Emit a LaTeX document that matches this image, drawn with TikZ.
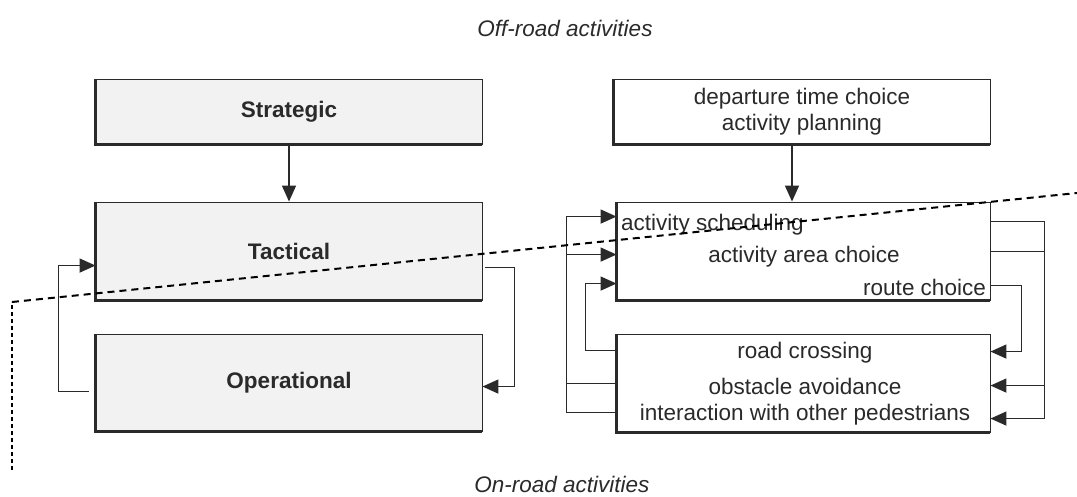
\documentclass[tikz,border=0pt]{standalone}
\usepackage{fontspec}
\setmainfont{Liberation Sans}
\usepackage{tikz}
\usetikzlibrary{arrows.meta}
\definecolor{boxgray}{HTML}{F2F2F2}
\definecolor{inkgray}{HTML}{2A2A2A}

\begin{document}
\begin{tikzpicture}[x=1pt,y=-1pt]
\tikzstyle{every node}=[font=\fontsize{22.5}{26}\selectfont, text=inkgray]
\tikzstyle{levelbox}=[draw=inkgray, line width=0.9pt, fill=boxgray, font=\fontsize{22.5}{26}\selectfont\bfseries, inner sep=0pt]
\tikzstyle{taskbox}=[draw=inkgray, line width=0.9pt, fill=white, inner sep=0pt, align=center]
\tikzstyle{txt}=[inner sep=0pt]
\tikzstyle{conn}=[draw=inkgray, line width=1pt]
\tikzstyle{arr}=[draw=inkgray, line width=1.5pt, -{Triangle[length=16pt,width=14pt]}]
\useasboundingbox (0,0) rectangle (1077,496);
\node[txt, font=\fontsize{22.5}{26}\selectfont\itshape] (off) at (565,28) {Off-road activities};
\node[txt, font=\fontsize{22.5}{26}\selectfont\itshape] (on) at (562,484) {On-road activities};
\node[levelbox, minimum width=386pt, minimum height=65pt] (strat) at (289,111.5) {Strategic};
\node[levelbox, minimum width=386pt, minimum height=98pt] (tac) at (289,251) {Tactical};
\node[levelbox, minimum width=386pt, minimum height=97pt] (op) at (289,382.5) {Operational};
\node[taskbox, minimum width=376pt, minimum height=65pt] (plan) at (802,111.5) {departure time choice\\activity planning};
\node[taskbox, minimum width=373pt, minimum height=98pt] (mid) at (803.5,251) {};
\node[taskbox, minimum width=373pt, minimum height=98pt] (bot) at (803.5,383) {};
\foreach \b in {strat,tac,op,plan,mid,bot}
  \draw[draw=inkgray, line width=2.2pt] (\b.north west) |- (\b.south east);
\node[txt, anchor=west] (sched) at (621,225) {activity scheduling};
\node[txt] (area) at (804,257) {activity area choice};
\node[txt, anchor=east] (route) at (986,287) {route choice};
\node[txt] (cross) at (805,353) {road crossing};
\node[txt] (obst) at (805,386) {obstacle avoidance};
\node[txt] (inter) at (805,415) {interaction with other pedestrians};
\draw[arr] (strat.south) -- (tac.north);
\draw[arr] ([xshift=-10pt]plan.south) -- ([xshift=-10pt]plan.south |- mid.north);
\draw[arr] ([xshift=-7pt,yshift=-58pt]op.north west) -- ++(-30pt,0pt) |- ([yshift=-64pt]tac.north west);
\draw[arr] ([xshift=3pt,yshift=-66pt]tac.north east) -- ++(29pt,0pt) |- ([yshift=-53pt]op.north east);
\draw[arr] ([yshift=-79pt]bot.north west) -- ++(-50pt,0pt) |- ([yshift=-15pt]mid.north west);
\draw[conn] ([yshift=-50pt]bot.north west) -- ++(-50pt,0pt);
\draw[arr] ([xshift=-50pt,yshift=-53pt]mid.north west) -- ([yshift=-53pt]mid.north west);
\draw[arr] ([yshift=-17pt]bot.north west) -- ++(-31pt,0pt) |- ([yshift=-82pt]mid.north west);
\draw[arr] ([yshift=-20pt]mid.north east) -- ++(54pt,0pt) |- ([yshift=-85pt]bot.north east);
\draw[conn] ([yshift=-50pt]mid.north east) -- ++(54pt,0pt);
\draw[arr] ([xshift=54pt,yshift=-52pt]bot.north east) -- ([yshift=-52pt]bot.north east);
\draw[arr] ([yshift=-84pt]mid.north east) -- ++(31pt,0pt) |- ([yshift=-18pt]bot.north east);
\coordinate (dlow) at (12,470);
\coordinate (dbend) at (12,302);
\coordinate (dend) at (1077,193);
\draw[black, line width=2pt, dash pattern=on 4pt off 3pt] (dlow) -- (dbend);
\draw[black, line width=2pt, dash pattern=on 7pt off 5pt] (dbend) -- (dend);
\end{tikzpicture}
\end{document}
